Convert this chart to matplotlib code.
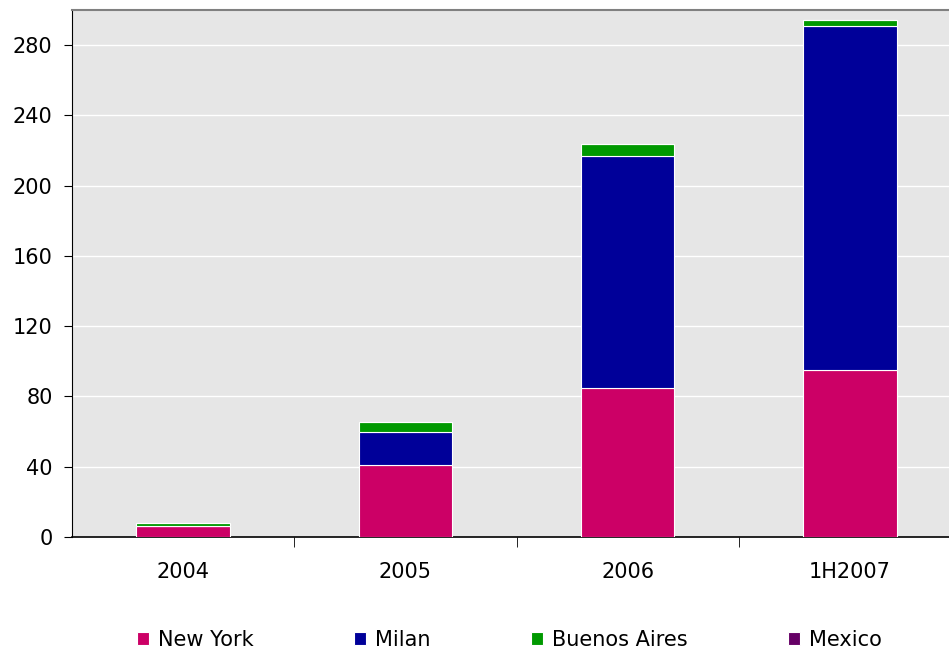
import matplotlib.pyplot as plt
import numpy as np

periods = ['2004', '2005', '2006', '1H2007']
new_york = [6, 41, 85, 95]
milan = [0, 19, 132, 196]
buenos_aires = [2, 5.5, 6.5, 3.5]
mexico = [0, 0, 0, 0]

colors = ['#cc0066', '#000099', '#009900', '#660066']
names = ['New York', 'Milan', 'Buenos Aires', 'Mexico']

fig = plt.figure(figsize=(9.49, 6.53), dpi=100)
ax = fig.add_axes([72/949, 1-537/653, 889/949, 527/653])
ax.set_facecolor('#e6e6e6')

x = np.arange(len(periods))
bottom = np.zeros(len(periods))
for vals, c, n in zip([new_york, milan, buenos_aires, mexico], colors, names):
    ax.bar(x, vals, bottom=bottom, width=0.42, color=c, edgecolor='white',
           linewidth=0.8, label=n, zorder=3)
    bottom += np.array(vals)

ax.set_xlim(-0.5, 3.5)
ax.set_ylim(0, 300)
ax.set_yticks(range(0, 281, 40))
ax.yaxis.grid(True, color='white', linewidth=1, zorder=0)
ax.set_xticks(x)
ax.set_xticklabels(periods)
ax.set_xticks([0.5, 1.5, 2.5], minor=True)
ax.tick_params(axis='x', which='major', length=0, pad=18, labelsize=15)
ax.tick_params(axis='x', which='minor', length=7, direction='out', color='black')
ax.tick_params(axis='y', length=6, direction='out', labelsize=15, pad=8)

ax.spines['right'].set_visible(False)
ax.spines['top'].set_color('#808080')
ax.spines['top'].set_linewidth(1.5)
ax.spines['left'].set_color('black')
ax.spines['bottom'].set_color('black')
ax.spines['bottom'].set_linewidth(1.2)

handles, labels = ax.get_legend_handles_labels()
leg = fig.legend(handles, labels, loc='center', bbox_to_anchor=(0.537, 0.02),
                 ncol=4, frameon=False, handlelength=0.58, handleheight=0.58,
                 handletextpad=0.45, columnspacing=4.8, borderpad=0,
                 prop={'size': 15})

plt.savefig('out.png', dpi=100)
